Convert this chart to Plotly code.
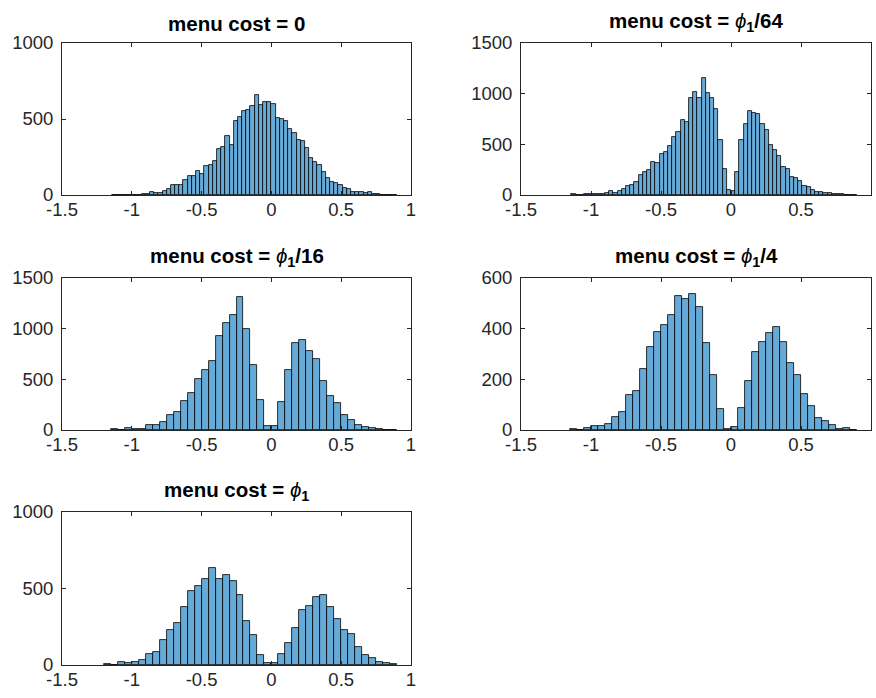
import numpy as np
import plotly.graph_objects as go

# ---------------- data ----------------
titles = [
    "<b>menu cost = 0</b>",
    "<b>menu cost = </b><i>ϕ</i><sub><b>1</b></sub><b>/64</b>",
    "<b>menu cost = </b><i>ϕ</i><sub><b>1</b></sub><b>/16</b>",
    "<b>menu cost = </b><i>ϕ</i><sub><b>1</b></sub><b>/4</b>",
    "<b>menu cost = </b><i>ϕ</i><sub><b>1</b></sub>",
]

# panel 1: menu cost = 0   (bin width 0.03, first edge -1.14)
p1_first_edge = -1.14
p1_bin_width = 0.03
p1_counts = [1, 1, 2, 2, 3, 3, 3, 4, 9, 17,
             11, 11, 26, 37, 63, 63, 63, 102, 128, 124,
             157, 141, 193, 198, 224, 304, 315, 387, 330, 487,
             513, 550, 557, 585, 657, 589, 615, 615, 596, 507,
             498, 485, 435, 411, 359, 354, 309, 246, 217, 196,
             152, 113, 87, 78, 65, 48, 37, 22, 17, 17,
             11, 17, 4, 4, 2, 2, 2, 1]

# panel 2: menu cost = phi1/64   (bin width 0.03, first edge -1.14)
p2_first_edge = -1.14
p2_bin_width = 0.03
p2_counts = [7, 3, 3, 7, 13, 10, 10, 8, 18, 36,
             18, 36, 58, 85, 98, 131, 193, 226, 246, 321,
             315, 400, 423, 479, 577, 626, 744, 718, 961, 1016,
             957, 1150, 1010, 958, 845, 540, 252, 47, 43, 230,
             545, 702, 830, 810, 800, 700, 640, 489, 443, 384,
             279, 252, 180, 164, 138, 92, 75, 49, 33, 33,
             20, 20, 7, 7, 5, 4, 3, 2]

# panel 3: menu cost = phi1/16   (bin width 0.05, first edge -1.15)
p3_first_edge = -1.15
p3_bin_width = 0.05
p3_counts = [7, 2, 16, 10, 13, 46, 46, 82, 148, 180,
             282, 370, 505, 597, 685, 931, 1056, 1138, 1308, 993,
             646, 295, 43, 43, 272, 597, 862, 889, 777, 698,
             479, 334, 269, 144, 98, 46, 30, 16, 7, 3,
             3]

# panel 4: menu cost = phi1/4   (bin width 0.05, first edge -1.15)
p4_first_edge = -1.15
p4_bin_width = 0.05
p4_counts = [4, 1, 9, 14, 17, 25, 51, 73, 139, 153,
             239, 327, 388, 414, 455, 528, 519, 536, 485, 345,
             218, 84, 5, 10, 88, 192, 306, 348, 383, 407,
             348, 264, 218, 141, 93, 47, 35, 20, 4, 7,
             1]

# panel 5: menu cost = phi1   (bin width 0.05, first edge -1.20)
p5_first_edge = -1.20
p5_bin_width = 0.05
p5_counts = [4, 1, 17, 15, 22, 32, 75, 84, 166, 226,
             274, 377, 483, 515, 560, 631, 565, 586, 547, 459,
             287, 194, 65, 11, 11, 69, 142, 239, 358, 384,
             444, 459, 379, 302, 231, 205, 119, 67, 43, 17,
             11, 4]

x_tickvals = [-1.5, -1, -0.5, 0, 0.5, 1]
x_ticktext = ["-1.5", "-1", "-0.5", "0", "0.5", "1"]
y_ticks = [
    [0, 500, 1000],
    [0, 500, 1000, 1500],
    [0, 500, 1000, 1500],
    [0, 200, 400, 600],
    [0, 500, 1000],
]

panels = [
    (p1_first_edge, p1_bin_width, p1_counts),
    (p2_first_edge, p2_bin_width, p2_counts),
    (p3_first_edge, p3_bin_width, p3_counts),
    (p4_first_edge, p4_bin_width, p4_counts),
    (p5_first_edge, p5_bin_width, p5_counts),
]

# ---------------- layout geometry (pixels) ----------------
W, H = 876, 698
boxes = [  # (left, right, top, bottom) in px
    (62, 411, 43, 195),
    (521, 871, 43, 195),
    (62, 411, 278, 430),
    (521, 871, 278, 430),
    (62, 411, 512, 665),
]

FONT = "Liberation Sans, Arial, Helvetica, sans-serif"
AX_COLOR = "#262626"
BAR_FILL = "rgb(102,170,215)"

fig = go.Figure()
annotations = []
for i, ((edge0, bw, counts), (l, r, t, b)) in enumerate(zip(panels, boxes)):
    n = i + 1
    counts = np.asarray(counts)
    centers = edge0 + bw / 2 + bw * np.arange(len(counts))
    xa = "x" if n == 1 else f"x{n}"
    ya = "y" if n == 1 else f"y{n}"
    fig.add_trace(go.Bar(
        x=centers, y=counts, width=bw,
        marker=dict(color=BAR_FILL, line=dict(color="black", width=0.8)),
        xaxis=xa, yaxis=ya, showlegend=False,
    ))
    xdom = [l / W, r / W]
    ydom = [1 - b / H, 1 - t / H]
    common = dict(
        showline=True, linecolor=AX_COLOR, linewidth=1, mirror="ticks",
        ticks="inside", ticklen=4, tickcolor=AX_COLOR, tickwidth=1,
        showgrid=False, zeroline=False, automargin=False,
        tickfont=dict(family=FONT, size=18.5, color=AX_COLOR),
    )
    fig.layout[f"xaxis{'' if n == 1 else n}"] = dict(
        domain=xdom, range=[-1.5, 1], anchor=ya,
        tickmode="array", tickvals=x_tickvals, ticktext=x_ticktext,
        ticklabelstandoff=-2,
        **common,
    )
    yt = y_ticks[i]
    fig.layout[f"yaxis{'' if n == 1 else n}"] = dict(
        domain=ydom, range=[yt[0], yt[-1]], anchor=xa,
        tickmode="array", tickvals=yt, ticktext=[str(v) for v in yt],
        ticklabelstandoff=4,
        **common,
    )
    annotations.append(dict(
        text=titles[i], x=(xdom[0] + xdom[1]) / 2, y=ydom[1],
        xref="paper", yref="paper", xanchor="center", yanchor="bottom",
        yshift=6, showarrow=False,
        font=dict(family=FONT, size=20.5, color="black"),
    ))

fig.update_layout(
    width=W, height=H,
    margin=dict(l=0, r=0, t=0, b=0),
    paper_bgcolor="white", plot_bgcolor="white",
    bargap=0, annotations=annotations,
)

fig.write_html(
    "out.html",
    config={"displayModeBar": False},
    post_script="document.body.style.margin='0';document.body.style.overflow='hidden';",
)
